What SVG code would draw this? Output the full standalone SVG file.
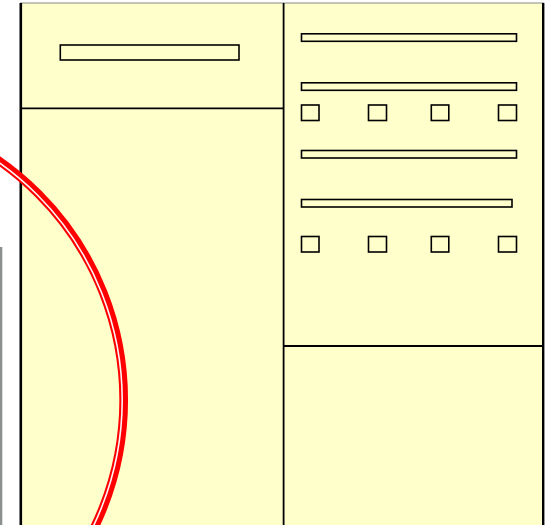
<svg xmlns="http://www.w3.org/2000/svg" width="550" height="525" viewBox="0 0 550 525">
  <style>
    .panel { fill: #ffffcc; stroke: #000; stroke-width: 2; }
    .bar { fill: #ffffcc; stroke: #000; stroke-width: 1.6; }
    .sq { fill: #ffffcc; stroke: #000; stroke-width: 1.6; }
  </style>
  <rect width="550" height="525" fill="#ffffff"/>
  <g id="edge-strip">
    <rect x="0" y="247" width="2.3" height="278" fill="#8c8f90"/>
  </g>
  <g id="frame">
    <rect x="20.8" y="3" width="522.4" height="530" fill="#ffffcc" stroke="none"/>
    <line x1="20" y1="3" x2="544" y2="3" stroke="#888" stroke-width="1"/>
    <line x1="20.8" y1="3" x2="20.8" y2="525" stroke="#000" stroke-width="2.6"/>
    <line x1="543.2" y1="3" x2="543.2" y2="525" stroke="#000" stroke-width="2.4"/>
  </g>
  <g id="left-column">
    <line x1="20" y1="108.3" x2="284" y2="108.3" stroke="#000" stroke-width="1.8"/>
    <rect class="bar" x="60.3" y="45" width="178.7" height="15"/>
  </g>
  <g id="right-column">
    <line x1="283.6" y1="3" x2="283.6" y2="525" stroke="#000" stroke-width="1.8"/>
    <line x1="283.6" y1="346" x2="543" y2="346" stroke="#000" stroke-width="1.8"/>
    <rect class="bar" x="301.5" y="33.8" width="215" height="7.5"/>
    <rect class="bar" x="301.5" y="82.8" width="215" height="7.5"/>
    <rect class="sq" x="301.5" y="105" width="17.5" height="15.5"/>
    <rect class="sq" x="368.5" y="105" width="18" height="15.5"/>
    <rect class="sq" x="431.3" y="105" width="17.5" height="15.5"/>
    <rect class="sq" x="498.5" y="105" width="18" height="15.5"/>
    <rect class="bar" x="301.5" y="150.5" width="215" height="7.5"/>
    <rect class="bar" x="301.5" y="199.5" width="210.5" height="7.5"/>
    <rect class="sq" x="301.5" y="236.5" width="17.5" height="15.5"/>
    <rect class="sq" x="368.5" y="236.5" width="18" height="15.5"/>
    <rect class="sq" x="431.3" y="236.5" width="17.5" height="15.5"/>
    <rect class="sq" x="498.5" y="236.5" width="18" height="15.5"/>
  </g>
  <g id="connectors">
    <circle cx="-168" cy="400" r="291.7" fill="none" stroke="#ff0000" stroke-width="8.7"/>
    <circle cx="-168" cy="400" r="290.2" fill="none" stroke="#fff4f4" stroke-width="1.6"/>
  </g>
</svg>
